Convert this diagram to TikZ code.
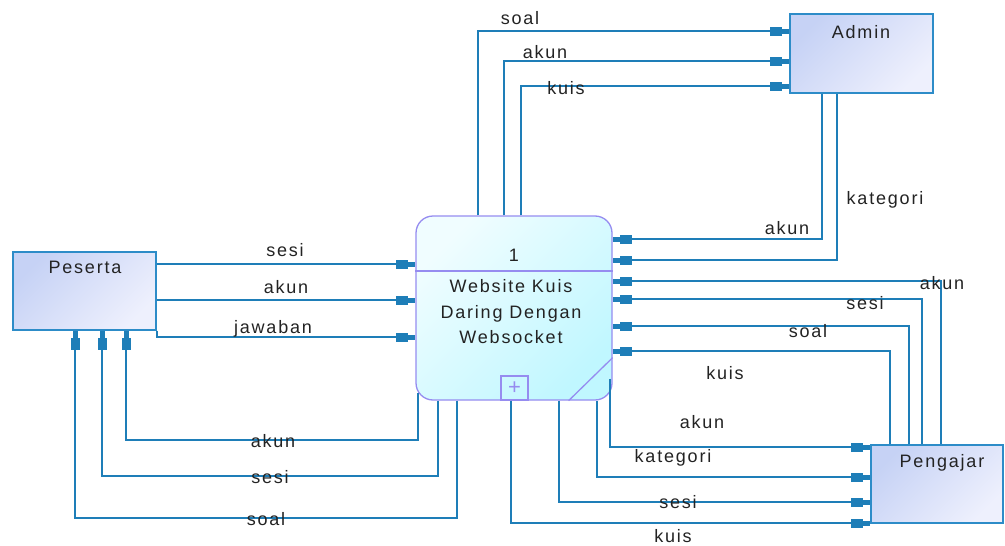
\documentclass[tikz,border=0pt]{standalone}
\usepackage{fontspec}
\setmainfont{Liberation Sans}[LetterSpace=10]
\usetikzlibrary{arrows.meta,calc}
\definecolor{lineblue}{RGB}{30,126,184}
\definecolor{entborder}{RGB}{45,140,200}
\definecolor{entA}{RGB}{198,210,245}
\definecolor{entB}{RGB}{238,240,253}
\definecolor{procborder}{RGB}{150,140,240}
\definecolor{procA}{RGB}{240,253,255}
\definecolor{procB}{RGB}{192,247,255}
\definecolor{txt}{RGB}{35,35,35}
\begin{document}
\begin{tikzpicture}[x=1pt,y=-1pt,
  every node/.style={font=\fontsize{18}{25.5}\selectfont, text=txt},
  entity/.style={draw=entborder, line width=1.4pt, shading=axis, top color=entA, bottom color=entB, shading angle=45, inner sep=0pt},
  proc/.style={draw=procborder, line width=1.3pt, rounded corners=17pt, shading=axis, top color=procA, bottom color=procB, shading angle=45, inner sep=0pt},
  flowline/.style={draw=lineblue, line width=1.8pt, -{Rectangle[length=12pt,width=9pt,sep=0pt]Rectangle[length=7pt,width=5pt]}},
  lbl/.style={inner sep=1pt}
]
\useasboundingbox[fill=white] (0,0) rectangle (1005,546);

% entities
\node[entity, minimum width=143pt, minimum height=79pt] (admin) at (861.5,53.5) {};
\node[lbl] (admintxt) at (861,32) {Admin};
\node[entity, minimum width=143pt, minimum height=78pt] (pes) at (84.5,291) {};
\node[lbl] (pestxt) at (85,267) {Peserta};
\node[entity, minimum width=132pt, minimum height=78pt] (peng) at (937,484) {};
\node[lbl] (pengtxt) at (942,463) {Pengajar};

% process
\node[proc, minimum width=196pt, minimum height=184pt] (proc) at (514,308) {};
\draw[procborder, line width=1.3pt] (proc.west |- 0,271) -- (proc.east |- 0,271);
\node[lbl] (pnum) at (514,255) {1};
\node[lbl, align=center] (ptext) at (511,312) {Website Kuis\\Daring Dengan\\Websocket};
\node[draw=procborder, line width=1.3pt, minimum width=27pt, minimum height=24pt, inner sep=0pt, anchor=south, text=procborder, font=\fontsize{22}{22}\selectfont] (plus) at ($(proc.south)+(0.5,0)$) {+};
\draw[procborder, line width=1.3pt] ($(proc.south east)+(-44,0)$) -- ($(proc.south east)+(0,-43)$);

% process -> Admin
\draw[flowline] (proc.north -| 478,0) |- (admin.west |- 0,31);
\draw[flowline] (proc.north -| 504,0) |- (admin.west |- 0,61);
\draw[flowline] (proc.north -| 521,0) |- (admin.west |- 0,86);
\node[lbl] (l1) at (520,18) {soal};
\node[lbl] (l2) at (545,52) {akun};
\node[lbl] (l3) at (566,88) {kuis};

% Admin -> process
\draw[flowline] (admin.south -| 822,0) |- (proc.east |- 0,239);
\draw[flowline] (admin.south -| 837,0) |- (proc.east |- 0,260);
\node[lbl] (l4) at (787,228) {akun};
\node[lbl] (l5) at (885,200) {kategori};

% Pengajar -> process
\draw[flowline] (peng.north -| 941,0) |- (proc.east |- 0,281);
\draw[flowline] (peng.north -| 922,0) |- (proc.east |- 0,299);
\draw[flowline] (peng.north -| 909,0) |- (proc.east |- 0,326);
\draw[flowline] (peng.north -| 890,0) |- (proc.east |- 0,351);
\node[lbl] (l6) at (942,283) {akun};
\node[lbl] (l7) at (865,303) {sesi};
\node[lbl] (l8) at (808,331) {soal};
\node[lbl] (l9) at (725,373) {kuis};

% process -> Pengajar
\draw[flowline] ($(proc.south east)+(-3,-22)$) |- (peng.west |- 0,447);
\draw[flowline] (proc.south -| 597,0) |- (peng.west |- 0,477);
\draw[flowline] (proc.south -| 559,0) |- (peng.west |- 0,502);
\draw[flowline] (plus.south -| 511,0) |- (peng.west |- 0,523);
\node[lbl] (l10) at (702,422) {akun};
\node[lbl] (l11) at (673,458) {kategori};
\node[lbl] (l12) at (678,502) {sesi};
\node[lbl] (l13) at (673,536) {kuis};

% Peserta -> process
\draw[flowline] (pes.east |- 0,264) -- (proc.west |- 0,264);
\draw[flowline] (pes.east |- 0,300) -- (proc.west |- 0,300);
\draw[flowline] (pes.south east) |- (proc.west |- 0,337);
\node[lbl] (l14) at (285,250) {sesi};
\node[lbl] (l15) at (286,287) {akun};
\node[lbl] (l16) at (273,329) {jawaban};

% process -> Peserta
\draw[flowline] ($(proc.south west)+(3,-8)$) |- (126,440) -- (pes.south -| 126,0);
\draw[flowline] (proc.south -| 438,0) |- (102,476) -- (pes.south -| 102,0);
\draw[flowline] (proc.south -| 457,0) |- (75,518) -- (pes.south -| 75,0);
\node[lbl] (l17) at (273,441) {akun};
\node[lbl] (l18) at (270,477) {sesi};
\node[lbl] (l19) at (266,519) {soal};
\end{tikzpicture}
\end{document}
